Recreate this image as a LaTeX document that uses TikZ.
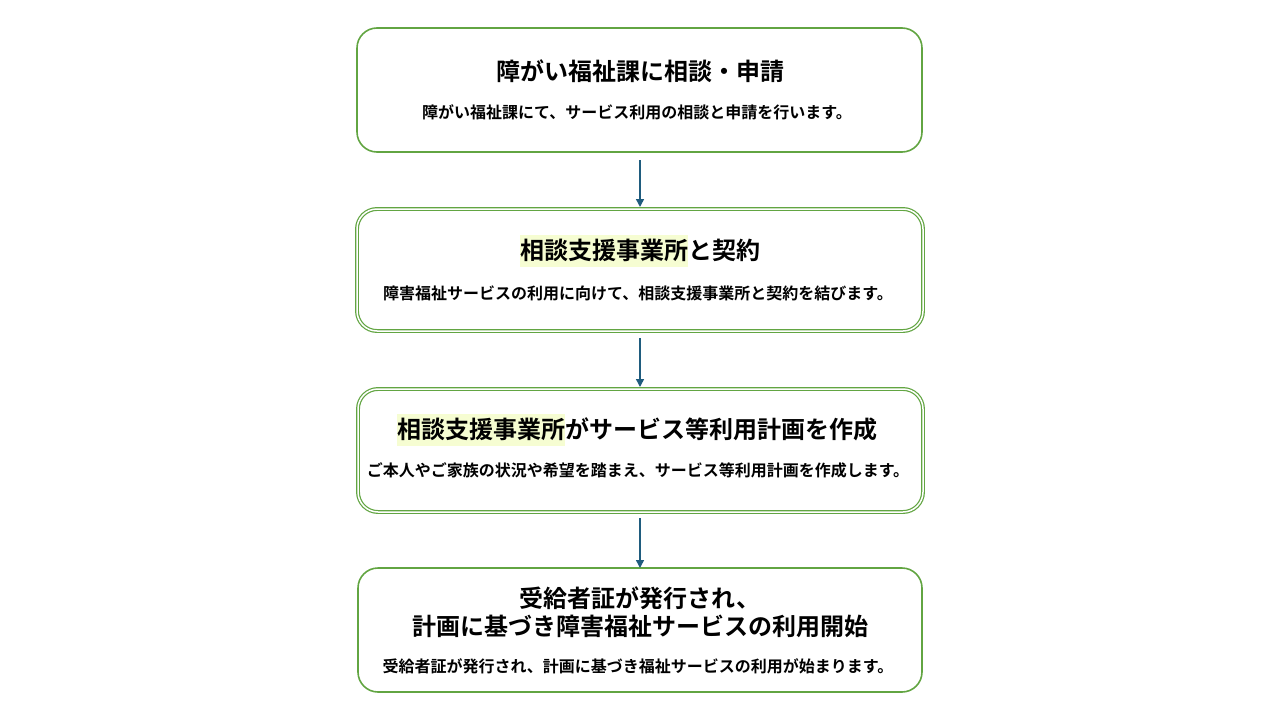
\documentclass[tikz,border=0pt]{standalone}
\usepackage{fontspec}
\setmainfont{Noto Sans CJK JP}[BoldFont={* Bold}]
\newfontfamily\jpb{Noto Sans CJK JP Bold}
\usetikzlibrary{arrows.meta}
\definecolor{boxgreen}{HTML}{62A542}
\definecolor{arrowblue}{HTML}{1F5C7E}
\definecolor{hlyellow}{HTML}{F6FDD2}
\newcommand\hlt[1]{{\setlength{\fboxsep}{0pt}\colorbox{hlyellow}{\rule[-0.3em]{0pt}{1.33em}#1}}}
\tikzset{
  stepbox/.style={draw=boxgreen, line width=1.6pt, rounded corners=20pt, fill=white},
  stepboxdbl/.style={draw=boxgreen, line width=1.2pt, double=white, double distance=1.5pt, rounded corners=20pt},
  titletext/.style={font=\jpb\fontsize{24}{28}\selectfont, inner sep=0pt, align=center},
  desctext/.style={font=\jpb\fontsize{16}{19}\selectfont, inner sep=0pt},
  flowarrow/.style={draw=arrowblue, line width=1.5pt, -{Triangle[length=8pt,width=8pt]}}
}
\begin{document}
\begin{tikzpicture}[x=1pt,y=-1pt]
\useasboundingbox[fill=white] (0,0) rectangle (1280,720);
% boxes
\draw[stepbox] (357,28) rectangle (922,152);
\coordinate (b1s) at (640,152);
\draw[stepboxdbl] (357,209) rectangle (923,331);
\coordinate (b2n) at (640,207);
\coordinate (b2s) at (640,333);
\draw[stepboxdbl] (358,389) rectangle (923,512);
\coordinate (b3n) at (640,387);
\coordinate (b3s) at (640,514);
\draw[stepbox] (358,568) rectangle (922,692);
\coordinate (b4n) at (640,568);
% texts
\node[titletext] (t1) at (640,71) {障がい福祉課に相談・申請};
\node[desctext] (d1) at (637,112) {障がい福祉課にて、サービス利用の相談と申請を行います。};
\node[titletext] (t2) at (640,251) {\hlt{相談支援事業所}と契約};
\node[desctext] (d2) at (638,293) {障害福祉サービスの利用に向けて、相談支援事業所と契約を結びます。};
\node[titletext] (t3) at (637,430) {\hlt{相談支援事業所}がサービス等利用計画を作成};
\node[desctext] (d3) at (638,470) {ご本人やご家族の状況や希望を踏まえ、サービス等利用計画を作成します。};
\node[titletext] (t4) at (640,612) {受給者証が発行され、\\計画に基づき障害福祉サービスの利用開始};
\node[desctext] (d4) at (638,666) {受給者証が発行され、計画に基づき福祉サービスの利用が始まります。};
% arrows
\draw[flowarrow, shorten <=8pt] (b1s) -- (b2n);
\draw[flowarrow, shorten <=5pt] (b2s) -- (b3n);
\draw[flowarrow, shorten <=4pt] (b3s) -- (b4n);
\end{tikzpicture}
\end{document}
